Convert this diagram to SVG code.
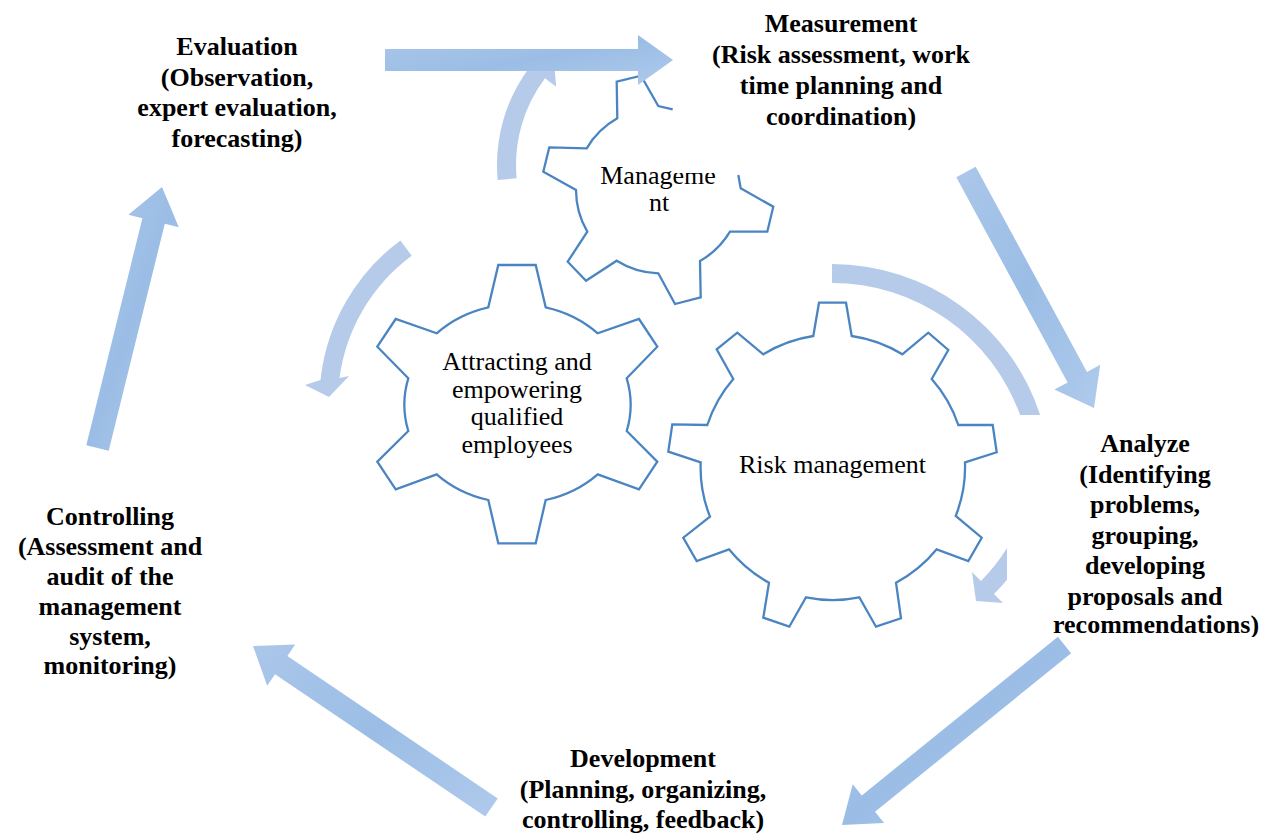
<svg xmlns="http://www.w3.org/2000/svg" width="1262" height="834" viewBox="0 0 1262 834">
<defs>
<style>
.lbl{font-family:"Liberation Serif","Times New Roman",serif;font-weight:bold;font-size:26px;text-anchor:middle;fill:#000}
.gt{font-family:"Liberation Serif","Times New Roman",serif;font-size:26px;text-anchor:middle;fill:#000}
.gear{fill:none;stroke:#4a85c2;stroke-width:2.3;stroke-linejoin:miter}
.gearf{fill:#fff;stroke:#4a85c2;stroke-width:2.3}
.blk{fill:url(#bg)}
.cur{fill:#b5cbe9}
</style>
<linearGradient id="bg" x1="0" y1="0" x2="1" y2="1">
<stop offset="0" stop-color="#abc7ea"/>
<stop offset="0.5" stop-color="#9bbde5"/>
<stop offset="1" stop-color="#afcaec"/>
</linearGradient>
<clipPath id="mclip"><path clip-rule="evenodd" d="M0,0H1262V834H0Z M673,0H1262V173H673Z"/></clipPath>
<clipPath id="aclip"><rect x="1000" y="400" width="262" height="237"/></clipPath>
<clipPath id="cclip"><rect x="0" y="490" width="260" height="191"/></clipPath>
</defs>
<rect width="1262" height="834" fill="#fff"/>

<g id="connectors">
<path class="cur" d="M497.7,180.1 A163 163 0 0 1 529.8,66.9 L519.4,59.1 L553.4,54.6 L556.2,86.8 L545,78.3 A144 144 0 0 0 516.6,178.3 Z"/>
<path class="cur" d="M400.4,240.4 A201 201 0 0 0 320.5,380 L305,385 L329,397 L349,376 L339.5,378 A182 182 0 0 1 411.7,255.7 Z"/>
<path class="cur" d="M832,264 A219 219 0 0 1 1040.2,415 L1020.1,415 A200 200 0 0 0 832,283 Z"/>
<path class="cur" d="M1007,548.1 A181.5 181.5 0 0 1 981,581 L972,572 L976,601 L1003,603 L994,594 A200 200 0 0 0 1007,579.8 Z"/>
</g>

<g id="gear-attracting">
<path class="gearf" d="M498.3,265 L535.7,265 L545.7,307.3 A113 101 0 0 1 597.7,333.3 L639,319 L657.3,346.7 L626.7,378.3 A113 101 0 0 1 626.7,431 L657.3,461.7 L639,489.3 L597.7,474.3 A113 101 0 0 1 545.7,500 L535.7,543.3 L498.3,543.3 L488.3,500 A113 101 0 0 1 436.7,474.3 L395.7,489.3 L377.3,461.7 L408.3,431 A113 101 0 0 1 408.3,378.3 L377.3,346.7 L395.7,319 L436.7,333.3 A113 101 0 0 1 488.3,307.3 Z"/>
<text class="gt" x="517" y="370">Attracting and</text>
<text class="gt" x="517" y="397.5">empowering</text>
<text class="gt" x="517" y="425">qualified</text>
<text class="gt" x="517" y="452.5">employees</text>
</g>

<g id="gear-risk">
<path class="gearf" d="M819,302.7 L846,302.7 L851.7,336 A133 133 0 0 1 902.3,354.3 L928.3,332.7 L948.3,350 L931.7,379 A133 133 0 0 1 958.3,425 L992.7,425 L996.7,452.3 L965,462.3 A133 133 0 0 1 955.7,516 L981.7,537.7 L968.3,561 L936.7,549.3 A133 133 0 0 1 896,582.7 L901,618.3 L876,626.7 L859.3,597.3 A133 133 0 0 1 806,597.3 L789.3,626.7 L763.3,617.7 L769,582.7 A133 133 0 0 1 729,549.3 L696.7,561 L683.3,537.7 L710,516.7 A133 133 0 0 1 700.7,462.3 L668.3,451.7 L672.3,424.3 L707.3,425 A133 133 0 0 1 733.3,379 L716.7,349.3 L737.3,332.7 L763.3,354.3 A133 133 0 0 1 813.3,336 Z"/>
<text class="gt" x="832.5" y="472.5">Risk management</text>
</g>

<g id="gear-management">
<path class="gear" d="M672.7,109.3 L658.3,106 L641,75.7 L616.7,81.7 L617.3,118.3 A83 83 0 0 0 586.7,148.3 L549.3,147.3 L543.3,171.7 L576,190 A83 83 0 0 0 587.3,231.7 L567.7,261.7 L586,280.7 L616.7,260.7 A83 83 0 0 0 658.3,273.3 L675,304 L700.7,297.3 L700,261 A83 83 0 0 0 730,231.7 L767.3,231.7 L773.3,206.7 L740.7,188.3 L738.3,175"/>
<g clip-path="url(#mclip)">
<text class="gt" x="658" y="184">Manageme</text>
<text class="gt" x="659" y="211">nt</text>
</g>
</g>

<g id="connectors-main">
<polygon class="blk" points="385,49 638,49 638,35 673,60 638,85 638,71 385,71"/>
<polygon class="blk" points="956.3,177.2 1067.6,382.4 1054.4,389.6 1094,408 1100.2,364.8 1087,372 975.7,166.8"/>
<polygon class="blk" points="1057.9,636.8 861.8,795.4 852.7,784.2 842,825 884.1,823 875,811.8 1071.1,653.2"/>
<polygon class="blk" points="497.7,798.4 287.4,656 295.2,644.4 253,646 267.2,685.8 275,674.2 485.3,816.6"/>
<polygon class="blk" points="108.7,450.8 164.8,223.8 178.8,227.2 162,187 128.4,214.8 142.4,218.2 86.3,445.2"/>
</g>

<g id="label-evaluation">
<text class="lbl" x="237" y="55">Evaluation</text>
<text class="lbl" x="237" y="85.5">(Observation,</text>
<text class="lbl" x="237" y="116">expert evaluation,</text>
<text class="lbl" x="237" y="146.5">forecasting)</text>
</g>
<g id="label-measurement">
<text class="lbl" x="841" y="32">Measurement</text>
<text class="lbl" x="841" y="63">(Risk assessment, work</text>
<text class="lbl" x="841" y="94">time planning and</text>
<text class="lbl" x="841" y="125">coordination)</text>
</g>
<g id="label-analyze" clip-path="url(#aclip)">
<text class="lbl" x="1145" y="452">Analyze</text>
<text class="lbl" x="1145" y="482.5">(Identifying</text>
<text class="lbl" x="1145" y="513">problems,</text>
<text class="lbl" x="1145" y="543.5">grouping,</text>
<text class="lbl" x="1145" y="574">developing</text>
<text class="lbl" x="1145" y="604.5">proposals and</text>
<text class="lbl" x="1053" y="633" style="text-anchor:start">recommendations)</text>
</g>
<g id="label-development">
<text class="lbl" x="643" y="767">Development</text>
<text class="lbl" x="643" y="797.5">(Planning, organizing,</text>
<text class="lbl" x="643" y="828">controlling, feedback)</text>
</g>
<g id="label-controlling" clip-path="url(#cclip)">
<text class="lbl" x="110" y="525">Controlling</text>
<text class="lbl" x="110" y="555">(Assessment and</text>
<text class="lbl" x="110" y="585">audit of the</text>
<text class="lbl" x="110" y="615">management</text>
<text class="lbl" x="110" y="645">system,</text>
<text class="lbl" x="110" y="674">monitoring)</text>
</g>
</svg>
